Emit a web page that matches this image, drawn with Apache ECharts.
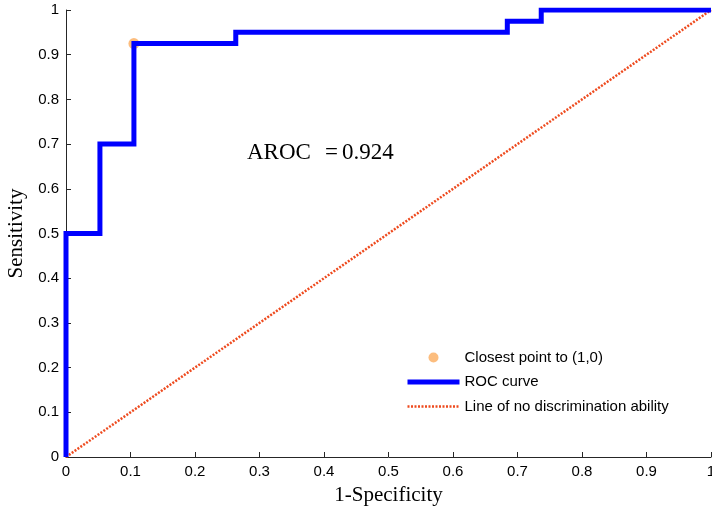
<!DOCTYPE html>
<html>
<head>
<meta charset="utf-8">
<script src="https://cdn.jsdelivr.net/npm/echarts@6/dist/echarts.min.js"></script>
<style>
  html, body { margin: 0; padding: 0; background: #fff; }
  #chart { width: 712px; height: 510px; }
</style>
</head>
<body>
<div id="chart"></div>
<script>
// ROC curve vertices (1-specificity, sensitivity)
const rocFpr = [0, 0, 0.0526, 0.0526, 0.1053, 0.1053, 0.2632, 0.2632, 0.6842, 0.6842, 0.7368, 0.7368, 1];
const rocTpr = [0, 0.5, 0.5, 0.7, 0.7, 0.925, 0.925, 0.95, 0.95, 0.975, 0.975, 1, 1];
// Chance diagonal
const chanceX = [0, 1];
const chanceY = [0, 1];
// Operating point closest to the ideal corner
const closestPoint = [0.1053, 0.925];
const aroc = 0.924;
const tickValues = ['0', '0.1', '0.2', '0.3', '0.4', '0.5', '0.6', '0.7', '0.8', '0.9', '1'];

const rocData = rocFpr.map((x, i) => [x, rocTpr[i]]);
const chanceData = chanceX.map((x, i) => [x, chanceY[i]]);

const chart = echarts.init(document.getElementById('chart'));

const axisCommon = {
  type: 'value',
  min: 0,
  max: 1,
  interval: 0.1,
  axisLine: { show: true, lineStyle: { color: '#262626', width: 1 } },
  axisTick: { show: true, inside: true, length: 5, lineStyle: { color: '#262626' } },
  splitLine: { show: false },
  axisLabel: {
    color: '#000',
    fontFamily: 'Liberation Sans',
    fontSize: 15,
    formatter: v => tickValues[Math.round(v * 10)]
  },
  nameLocation: 'middle',
  nameTextStyle: { color: '#000', fontFamily: 'Liberation Serif', fontSize: 21 }
};

const mathFont = '23px "Liberation Serif"';
const rocStyle = { color: '#0000ff', width: 5, join: 'miter', cap: 'butt' };
const chanceStyle = { color: '#ee4a1e', width: 2.5, type: [2, 1.5] };

chart.setOption({
  animation: false,
  backgroundColor: '#fff',
  grid: { left: 66, right: 1, top: 10, bottom: 53, containLabel: false, outerBoundsMode: 'none' },
  xAxis: Object.assign({}, axisCommon, {
    name: '1-Specificity',
    nameGap: 28,
    axisLabel: Object.assign({}, axisCommon.axisLabel, { margin: 7 })
  }),
  yAxis: Object.assign({}, axisCommon, {
    name: 'Sensitivity',
    nameGap: 37,
    axisLabel: Object.assign({}, axisCommon.axisLabel, { margin: 7 })
  }),
  legend: {
    orient: 'vertical',
    left: 400,
    top: 345,
    itemWidth: 52,
    itemHeight: 10,
    itemGap: 9.5,
    textStyle: { color: '#000', fontFamily: 'Liberation Sans', fontSize: 15 },
    data: [
      { name: 'Closest point to (1,0)' },
      { name: 'ROC curve', itemStyle: { opacity: 0 }, lineStyle: rocStyle },
      { name: 'Line of no discrimination ability', itemStyle: { opacity: 0 }, lineStyle: chanceStyle }
    ]
  },
  graphic: [
    { type: 'text', left: 247, top: 141, style: { text: 'AROC', fill: '#000', font: mathFont } },
    { type: 'text', left: 325, top: 141, style: { text: '=', fill: '#000', font: mathFont } },
    { type: 'text', left: 342, top: 141, style: { text: aroc.toFixed(3), fill: '#000', font: mathFont } }
  ],
  series: [
    {
      name: 'Closest point to (1,0)',
      type: 'scatter',
      data: [closestPoint],
      symbol: 'circle',
      symbolSize: 11,
      itemStyle: { color: '#fbac5e' },
      z: 1
    },
    {
      name: 'Line of no discrimination ability',
      type: 'line',
      data: chanceData,
      showSymbol: false,
      symbol: 'none',
      lineStyle: chanceStyle,
      itemStyle: { color: '#ee4a1e' },
      z: 2
    },
    {
      name: 'ROC curve',
      type: 'line',
      data: rocData,
      showSymbol: false,
      symbol: 'none',
      lineStyle: rocStyle,
      itemStyle: { color: '#0000ff' },
      z: 3
    }
  ]
});
</script>
</body>
</html>
